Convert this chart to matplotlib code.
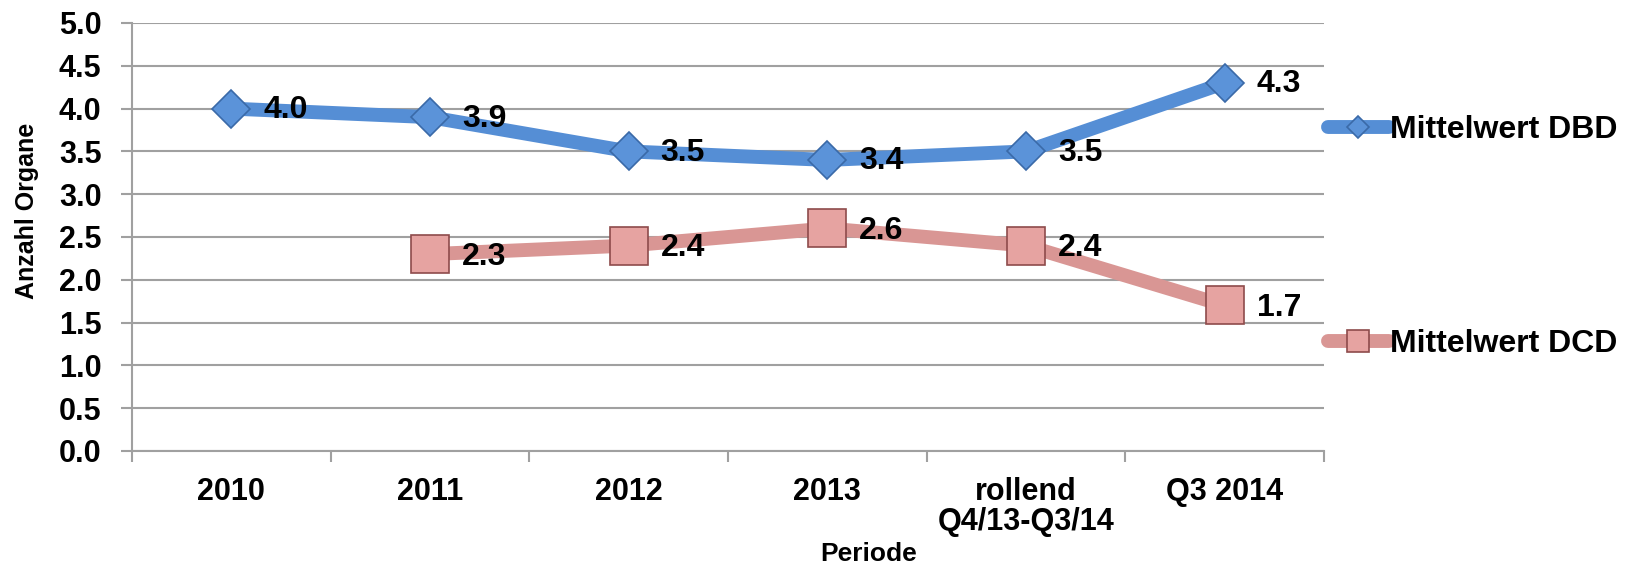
import matplotlib
matplotlib.use("Agg")
import matplotlib.pyplot as plt
import numpy as np

# data
categories = ["2010", "2011", "2012", "2013", "rollend\nQ4/13-Q3/14", "Q3 2014"]
dbd_values = [4.0, 3.9, 3.5, 3.4, 3.5, 4.3]
dcd_values = [np.nan, 2.3, 2.4, 2.6, 2.4, 1.7]
y_ticks = [0.0, 0.5, 1.0, 1.5, 2.0, 2.5, 3.0, 3.5, 4.0, 4.5, 5.0]

plt.rcParams['font.family'] = ['Liberation Sans', 'DejaVu Sans']
plt.rcParams['font.weight'] = 'bold'

W, H = 1628, 567
fig = plt.figure(figsize=(W / 100, H / 100), dpi=100)
left, right, top, bottom = 132, 1324, 23, 451
ax = fig.add_axes([left / W, 1 - bottom / H, (right - left) / W, (bottom - top) / H])

grid_col = '#A0A0A0'
x = np.arange(len(categories))

ax.plot(x, dbd_values, color='#558ED5', lw=10, solid_capstyle='round', zorder=3,
        marker='D', markersize=19, markerfacecolor='#5B93D9',
        markeredgecolor='#3A6AA8', markeredgewidth=1.2, label='Mittelwert DBD')
ax.plot(x, dcd_values, color='#D99694', lw=10, solid_capstyle='round', zorder=3,
        marker='s', markersize=27, markerfacecolor='#E6A3A1',
        markeredgecolor='#8E4B4B', markeredgewidth=1.2, label='Mittelwert DCD')

for xi, v in zip(x, dbd_values):
    ax.annotate(f"{v:.1f}", (xi, v), xytext=(23, -1), textcoords='offset points',
                ha='left', va='center', fontsize=23, fontweight='bold', zorder=4)
for xi, v in zip(x, dcd_values):
    if np.isnan(v):
        continue
    ax.annotate(f"{v:.1f}", (xi, v), xytext=(23, -2), textcoords='offset points',
                ha='left', va='center', fontsize=23, fontweight='bold', zorder=4)

ax.set_xlim(-0.5, len(categories) - 0.5)
ax.set_ylim(0, 5)
ax.set_yticks(y_ticks)
ax.set_yticklabels([f"{t:.1f}" for t in y_ticks], fontsize=22, fontweight='bold')
ax.yaxis.grid(True, color=grid_col, lw=1.5)
ax.set_axisbelow(True)

# category labels between tick marks
ax.set_xticks(x)
ax.set_xticklabels(categories, fontsize=22, fontweight='bold', linespacing=1.0)
ax.tick_params(axis='x', length=0, pad=19)
ax.set_xticks(np.arange(-0.5, len(categories)), minor=True)
ax.tick_params(axis='x', which='minor', length=8, width=1.5, color=grid_col)
ax.tick_params(axis='y', length=8, width=1.5, color=grid_col, pad=14)

for s in ['top', 'right']:
    ax.spines[s].set_visible(False)
for s in ['left', 'bottom']:
    ax.spines[s].set_color(grid_col)
    ax.spines[s].set_linewidth(1.5)

fig.text(869 / W, 1 - 554 / H, "Periode", ha='center', va='center',
         fontsize=19, fontweight='bold')
fig.text(27 / W, 1 - 211 / H, "Anzahl Organe", ha='center', va='center',
         rotation=90, fontsize=18, fontweight='bold')

leg = ax.legend(loc='center left', bbox_to_anchor=(1328 / W, 1 - 237 / H),
                bbox_transform=fig.transFigure, frameon=False, fontsize=23,
                labelspacing=5.75, handlelength=1.9, handletextpad=0.05,
                borderpad=0, borderaxespad=0, markerscale=0.58)
for t in leg.get_texts():
    t.set_fontweight('bold')

fig.savefig("out.png", dpi=100)
